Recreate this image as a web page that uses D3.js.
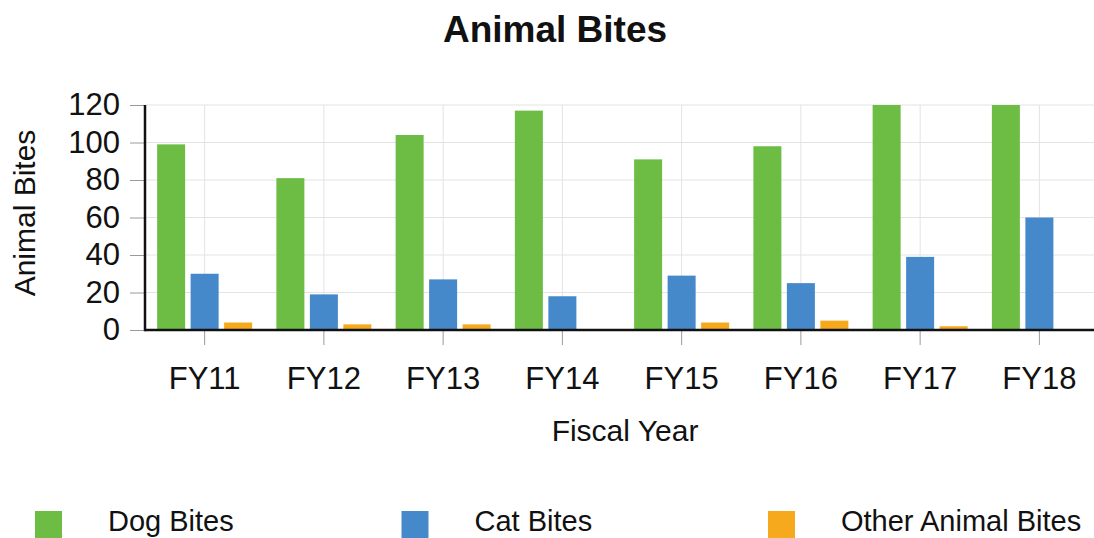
<!DOCTYPE html>
<html>
<head>
<meta charset="utf-8">
<script src="https://cdn.jsdelivr.net/npm/d3@7"></script>
<style>
  html, body { margin: 0; padding: 0; background: #fff; overflow: hidden; }
  svg { display: block; font-family: "Liberation Sans", Arial, sans-serif; }
</style>
</head>
<body>
<svg id="chart" width="1094" height="538"></svg>
<script>
const categories = ["FY11", "FY12", "FY13", "FY14", "FY15", "FY16", "FY17", "FY18"];
const seriesNames = ["Dog Bites", "Cat Bites", "Other Animal Bites"];
const dogBites = [99, 81, 104, 117, 91, 98, 120, 120];
const catBites = [30, 19, 27, 18, 29, 25, 39, 60];
const otherBites = [4, 3, 3, 0, 4, 5, 2, 0];
const yTicks = [0, 20, 40, 60, 80, 100, 120];
const colors = ["#6dbd45", "#4689cb", "#f7a91e"];

const seriesValues = [dogBites, catBites, otherBites];
const rows = categories.map((c, i) => ({
  cat: c,
  values: seriesNames.map((s, k) => ({ key: s, value: seriesValues[k][i], color: colors[k] }))
}));

const svg = d3.select("#chart");
const plotLeft = 145, plotRight = 1099, plotTop = 105, plotBottom = 330;

const x0 = d3.scaleBand().domain(categories).range([plotLeft, plotRight]).paddingInner(0).paddingOuter(0);
const x1 = d3.scaleBand().domain(seriesNames).range([-47.5, 47.5]).paddingInner(0.164).paddingOuter(0);
const y = d3.scaleLinear().domain([0, 120]).range([plotBottom, plotTop]);

svg.append("defs").append("clipPath").attr("id", "plotclip")
  .append("rect").attr("x", plotLeft).attr("y", plotTop).attr("width", plotRight - plotLeft).attr("height", plotBottom - plotTop);

// horizontal gridlines + left ticks
const yAxis = d3.axisLeft(y).tickValues(yTicks).tickSize(15).tickPadding(10).tickFormat(d3.format("d"));
const gy = svg.append("g").attr("transform", `translate(${plotLeft},0)`).call(yAxis);
gy.select(".domain").remove();
gy.selectAll(".tick line").attr("stroke", "#9a9a9a").attr("stroke-width", 1);
gy.selectAll(".tick text").attr("font-size", 31).attr("fill", "#111").attr("font-family", "Liberation Sans, Arial, sans-serif");

svg.append("g").selectAll("line").data(yTicks).join("line")
  .attr("x1", plotLeft).attr("x2", plotRight)
  .attr("y1", d => y(d)).attr("y2", d => y(d))
  .attr("stroke", "#e3e3e3").attr("stroke-width", 1);

// vertical gridlines
svg.append("g").selectAll("line").data(categories).join("line")
  .attr("x1", d => x0(d) + x0.bandwidth() / 2).attr("x2", d => x0(d) + x0.bandwidth() / 2)
  .attr("y1", plotTop).attr("y2", plotBottom)
  .attr("stroke", "#e3e3e3").attr("stroke-width", 1);

// bars
const groups = svg.append("g").attr("clip-path", "url(#plotclip)")
  .selectAll("g").data(rows).join("g")
  .attr("transform", d => `translate(${x0(d.cat) + x0.bandwidth() / 2},0)`);
groups.selectAll("rect").data(d => d.values).join("rect")
  .attr("x", d => x1(d.key))
  .attr("width", x1.bandwidth())
  .attr("y", d => y(d.value))
  .attr("height", d => y(0) - y(d.value))
  .attr("fill", d => d.color);

// x axis
const xAxis = d3.axisBottom(x0).tickSize(15).tickPadding(22);
const gx = svg.append("g").attr("transform", `translate(0,${plotBottom})`).call(xAxis);
gx.select(".domain").remove();
gx.selectAll(".tick line").attr("stroke", "#9a9a9a").attr("stroke-width", 1);
gx.selectAll(".tick text").attr("font-size", 31).attr("fill", "#111").attr("font-family", "Liberation Sans, Arial, sans-serif");

// axis lines
svg.append("line").attr("x1", plotLeft).attr("x2", 1094).attr("y1", plotBottom).attr("y2", plotBottom)
  .attr("stroke", "#111").attr("stroke-width", 2.5);
svg.append("line").attr("x1", plotLeft).attr("x2", plotLeft).attr("y1", plotTop).attr("y2", plotBottom + 1.25)
  .attr("stroke", "#111").attr("stroke-width", 2.5);

// title
svg.append("text").attr("x", 555).attr("y", 42).attr("text-anchor", "middle")
  .attr("font-size", 37).attr("font-weight", "bold").attr("fill", "#111").text("Animal Bites");

// axis titles
svg.append("text").attr("x", 625).attr("y", 441).attr("text-anchor", "middle")
  .attr("font-size", 30).attr("fill", "#111").text("Fiscal Year");
svg.append("text").attr("transform", `translate(35,213) rotate(-90)`).attr("text-anchor", "middle")
  .attr("font-size", 30).attr("fill", "#111").text("Animal Bites");

// legend
const legend = svg.append("g").selectAll("g").data(seriesNames).join("g")
  .attr("transform", (d, i) => `translate(${35 + i * 366.5},511)`);
legend.append("rect").attr("width", 27).attr("height", 27).attr("fill", (d, i) => colors[i]);
legend.append("text").attr("x", 73).attr("y", 20).attr("font-size", 29).attr("fill", "#111").text(d => d);
</script>
</body>
</html>
